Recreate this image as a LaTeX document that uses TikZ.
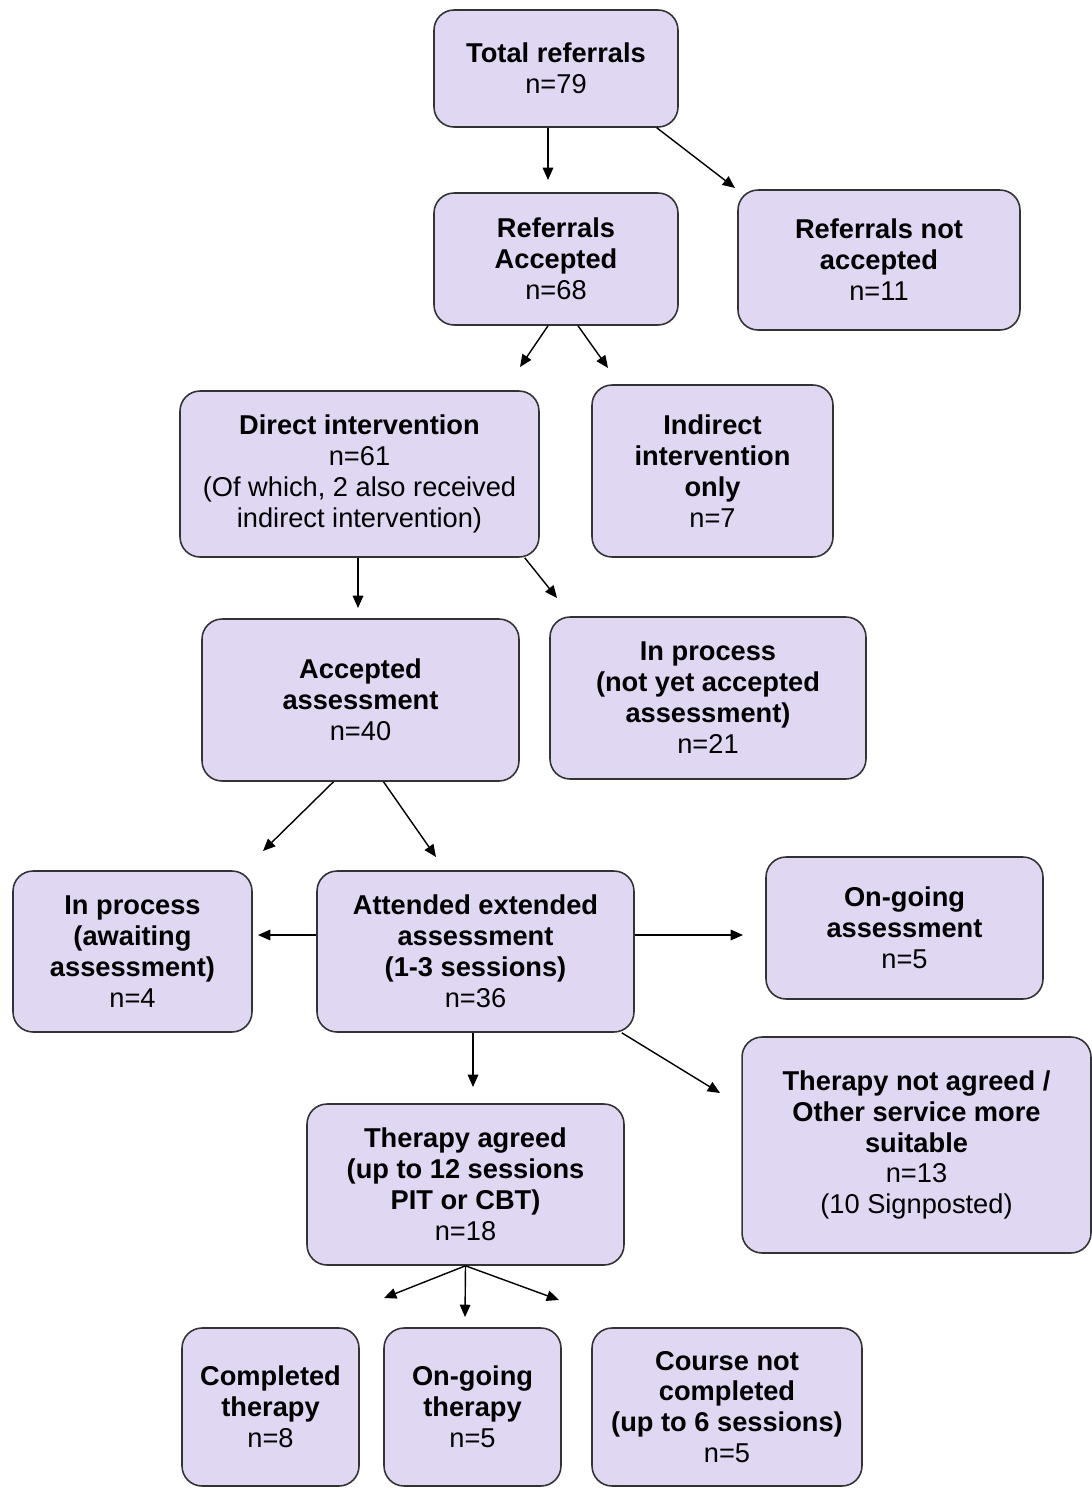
\documentclass[tikz,border=0pt]{standalone}
\usepackage{fontspec}
\setmainfont{Liberation Sans}
\usetikzlibrary{positioning}
\usetikzlibrary{calc}
\usetikzlibrary{arrows.meta}
\definecolor{boxfill}{HTML}{E0D7F3}
\definecolor{boxline}{HTML}{333333}

\begin{document}
\begin{tikzpicture}[x=0.02cm, y=-0.02cm,
    every node/.style={font=\fontsize{15.5}{17.6}\selectfont, align=center},
    box/.style={draw=boxline, fill=boxfill, rounded corners=0.4cm, line width=0.9pt, inner sep=0pt},
    arr/.style={-{Triangle[length=7pt, width=6pt]}, line width=0.8pt}]
        \useasboundingbox (0,0) rectangle (1092,1488);

        \node[box, minimum width=4.88cm, minimum height=2.34cm] (total) at (556,68.5) {\textbf{Total referrals}\\n=79};

        \node[box, minimum width=4.88cm, minimum height=2.64cm] (accepted) at (556,259) {\textbf{Referrals}\\\textbf{Accepted}\\n=68};

        \node[box, minimum width=5.64cm, minimum height=2.80cm] (notaccepted) at (879,260) {\textbf{Referrals not}\\\textbf{accepted}\\n=11};

        \node[box, minimum width=7.18cm, minimum height=3.32cm] (direct) at (359.5,474) {\textbf{Direct intervention}\\n=61\\(Of which, 2 also received\\indirect intervention)};

        \node[box, minimum width=4.82cm, minimum height=3.44cm] (indirect) at (712.5,471) {\textbf{Indirect}\\\textbf{intervention}\\\textbf{only}\\n=7};

        \node[box, minimum width=6.34cm, minimum height=3.24cm] (assess) at (360.5,700) {\textbf{Accepted}\\\textbf{assessment}\\n=40};

        \node[box, minimum width=6.32cm, minimum height=3.24cm] (notyet) at (708,698) {\textbf{In process}\\\textbf{(not yet accepted}\\\textbf{assessment)}\\n=21};

        \node[box, minimum width=4.78cm, minimum height=3.22cm] (awaiting) at (132.5,951.5) {\textbf{In process}\\\textbf{(awaiting}\\\textbf{assessment)}\\n=4};

        \node[box, minimum width=6.34cm, minimum height=3.22cm] (attended) at (475.5,951.5) {\textbf{Attended extended}\\\textbf{assessment}\\\textbf{(1-3 sessions)}\\n=36};

        \node[box, minimum width=5.54cm, minimum height=2.84cm] (ongoingassess) at (904.5,928) {\textbf{On-going}\\\textbf{assessment}\\n=5};

        \node[box, minimum width=6.98cm, minimum height=4.32cm] (notagreed) at (916.5,1145) {\textbf{Therapy not agreed /}\\\textbf{Other service more}\\\textbf{suitable}\\n=13\\(10 Signposted)};

        \node[box, minimum width=6.34cm, minimum height=3.22cm] (agreed) at (465.5,1184.5) {\textbf{Therapy agreed}\\\textbf{(up to 12 sessions}\\\textbf{PIT or CBT)}\\n=18};

        \node[box, minimum width=3.54cm, minimum height=3.16cm] (completed) at (270.5,1407) {\textbf{Completed}\\\textbf{therapy}\\n=8};

        \node[box, minimum width=3.54cm, minimum height=3.16cm] (ongoingtherapy) at (472.5,1407) {\textbf{On-going}\\\textbf{therapy}\\n=5};

        \node[box, minimum width=5.40cm, minimum height=3.16cm] (notcompleted) at (727,1407) {\textbf{Course not}\\\textbf{completed}\\\textbf{(up to 6 sessions)}\\n=5};

        % arrow ends
        \coordinate (t1) at (548,180);
        \coordinate (t2) at (735,188);
        \coordinate (t3) at (520,367);
        \coordinate (t4) at (608,368);
        \coordinate (t5) at (358,608);
        \coordinate (t6) at (557,598);
        \coordinate (t7) at (263,851);
        \coordinate (t8) at (436,857);
        \coordinate (t9) at (258,935);
        \coordinate (t10) at (743,935);
        \coordinate (t11) at (720,1093);
        \coordinate (t12) at (473,1087);
        \coordinate (t13) at (384,1298);
        \coordinate (t14) at (465,1317);
        \coordinate (t15) at (559,1300);

        \draw[arr] (t1 |- total.south) -- (t1);
        \draw[arr] ($(total.south east)+(-22,0)$) -- (t2);
        \draw[arr] ($(accepted.south)+(-8,0)$) -- (t3);
        \draw[arr] ($(accepted.south)+(22,0)$) -- (t4);
        \draw[arr] (t5 |- direct.south) -- (t5);
        \draw[arr] ($(direct.south east)+(-15,0)$) -- (t6);
        \draw[arr] ($(assess.south)+(-27,0)$) -- (t7);
        \draw[arr] ($(assess.south)+(23,0)$) -- (t8);
        \draw[arr] (t9 -| attended.west) -- (t9);
        \draw[arr] (t10 -| attended.east) -- (t10);
        \draw[arr] ($(attended.south east)+(-13,0)$) -- (t11);
        \draw[arr] (t12 |- attended.south) -- (t12);
        \draw[arr] (agreed.south) -- (t13);
        \draw[arr] (agreed.south) -- (t14);
        \draw[arr] (agreed.south) -- (t15);
      \end{tikzpicture}
\end{document}
